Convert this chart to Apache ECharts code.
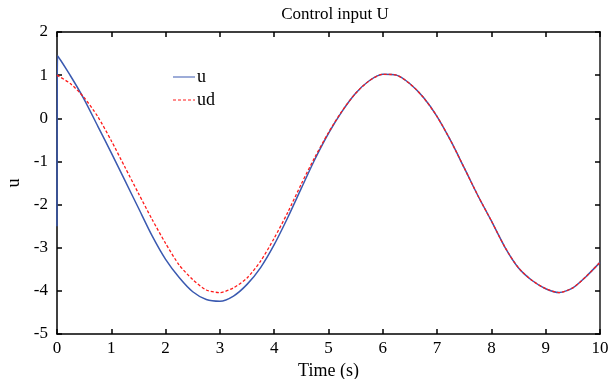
<!DOCTYPE html>
<html>
<head>
<meta charset="utf-8">
<script src="https://cdn.jsdelivr.net/npm/echarts@6/dist/echarts.min.js"></script>
<style>html,body{margin:0;padding:0;background:#fff;}#c{width:611px;height:379px;}</style>
</head>
<body>
<div id="c"></div>
<script>
const uTime = [0, 0.01, 0.25, 0.5, 0.75, 1.0, 1.25, 1.5, 1.75, 2.0, 2.25, 2.5, 2.75, 3.0, 3.25, 3.5, 3.75, 4.0, 4.25, 4.5, 4.75, 5.0, 5.25, 5.5, 5.75, 6.0, 6.25, 6.5, 6.75, 7.0, 7.25, 7.5, 7.75, 8.0, 8.25, 8.5, 8.75, 9.0, 9.25, 9.5, 9.75, 10.0];
const uValues = [-2.5, 1.45, 0.98, 0.44, -0.18, -0.8, -1.44, -2.08, -2.72, -3.27, -3.69, -4.02, -4.2, -4.24, -4.12, -3.85, -3.46, -2.93, -2.3, -1.62, -0.95, -0.35, 0.16, 0.58, 0.87, 1.02, 1.0, 0.8, 0.48, 0.04, -0.52, -1.15, -1.79, -2.38, -2.99, -3.47, -3.76, -3.95, -4.04, -3.93, -3.66, -3.34];
const udTime = [0, 0.25, 0.5, 0.75, 1.0, 1.25, 1.5, 1.75, 2.0, 2.25, 2.5, 2.75, 3.0, 3.25, 3.5, 3.75, 4.0, 4.25, 4.5, 4.75, 5.0, 5.25, 5.5, 5.75, 6.0, 6.25, 6.5, 6.75, 7.0, 7.25, 7.5, 7.75, 8.0, 8.25, 8.5, 8.75, 9.0, 9.25, 9.5, 9.75, 10.0];
const udValues = [1.0, 0.8, 0.48, 0.04, -0.52, -1.13, -1.74, -2.34, -2.9, -3.4, -3.74, -3.98, -4.04, -3.93, -3.7, -3.31, -2.78, -2.18, -1.52, -0.9, -0.33, 0.17, 0.58, 0.87, 1.02, 1.0, 0.8, 0.48, 0.04, -0.52, -1.15, -1.79, -2.38, -2.99, -3.47, -3.76, -3.95, -4.04, -3.93, -3.66, -3.34];
const xTicks = [0,1,2,3,4,5,6,7,8,9,10];
const yTicks = [-5,-4,-3,-2,-1,0,1,2];

const font = 'Liberation Serif';
const chart = echarts.init(document.getElementById('c'), null, {renderer: 'canvas'});
const axisCommon = {
  axisLine: {show: true, onZero: false, lineStyle: {color: '#000', width: 1.5}},
  axisTick: {show: true, inside: true, length: 5, lineStyle: {color: '#000', width: 1.5}},
  splitLine: {show: false}
};
chart.setOption({
  animation: false,
  backgroundColor: '#fff',
  title: {text: 'Control input U', left: 330, top: 1, textAlign: 'center',
    textStyle: {fontFamily: font, fontSize: 17, fontWeight: 'normal', color: '#000'}},
  legend: {orient: 'vertical', left: 168, top: 63, itemWidth: 22, itemHeight: 10, itemGap: 5,
    textStyle: {fontFamily: font, fontSize: 18, color: '#000', padding: [0,0,0,-3]},
    data: [{name: 'u', icon: 'path://M0,4.5L22,4.5L22,5.5L0,5.5Z'}, {name: 'ud', icon: 'path://M0,4.5L3,4.5L3,5.5L0,5.5ZM5,4.5L8,4.5L8,5.5L5,5.5ZM10,4.5L13,4.5L13,5.5L10,5.5ZM15,4.5L18,4.5L18,5.5L15,5.5ZM20,4.5L22,4.5L22,5.5L20,5.5Z'}]},
  grid: {left: 57, right: 11, top: 32, bottom: 45, containLabel: false, outerBoundsMode: 'none'},
  xAxis: [
    Object.assign({type: 'value', min: 0, max: 10, interval: 1, position: 'bottom',
      name: 'Time (s)', nameLocation: 'middle', nameGap: 19,
      nameTextStyle: {fontFamily: font, fontSize: 18, color: '#000'},
      axisLabel: {fontFamily: font, fontSize: 17, color: '#000', margin: 6,
        customValues: xTicks}}, axisCommon),
    Object.assign({type: 'value', min: 0, max: 10, interval: 1, position: 'top',
      axisLabel: {show: false}}, axisCommon)
  ],
  yAxis: [
    Object.assign({type: 'value', min: -5, max: 2, interval: 1, position: 'left',
      name: 'u', nameLocation: 'middle', nameGap: 34, nameRotate: 90,
      nameTextStyle: {fontFamily: font, fontSize: 18, color: '#000'},
      axisLabel: {fontFamily: font, fontSize: 17, color: '#000', margin: 9,
        formatter: v => (v < 0 ? '-' + Math.abs(v) : String(v))}}, axisCommon),
    Object.assign({type: 'value', min: -5, max: 2, interval: 1, position: 'right',
      axisLabel: {show: false}}, axisCommon, {axisLine: {show: true, onZero: false, lineStyle: {color: '#555', width: 2}}})
  ],
  series: [
    {name: 'u', type: 'line', showSymbol: false, smooth: 0.25, color: '#3a59b0',
      lineStyle: {color: '#3a59b0', width: 1.5},
      data: uTime.map((t, i) => [t, uValues[i]])},
    {name: 'ud', type: 'line', showSymbol: false, smooth: 0.25, color: '#ff1a1a',
      lineStyle: {color: '#ff1a1a', width: 1.3, type: [3, 2]},
      data: udTime.map((t, i) => [t, udValues[i]])}
  ]
});
</script>
</body>
</html>
